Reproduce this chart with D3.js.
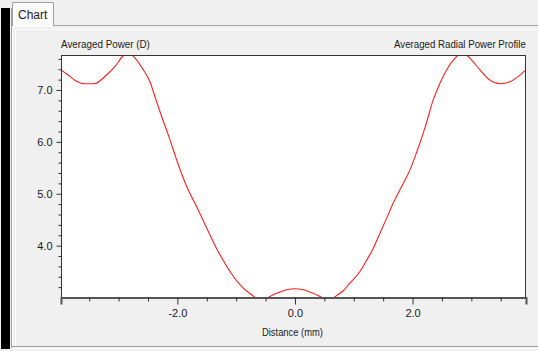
<!DOCTYPE html>
<html>
<head>
<meta charset="utf-8">
<script src="https://cdn.jsdelivr.net/npm/d3@7/dist/d3.min.js"></script>
<style>
  html, body { margin: 0; padding: 0; background: #f0f0f0; }
  svg { display: block; }
  text { font-family: "Liberation Sans", Arial, sans-serif; fill: #1a1a1a; }
</style>
</head>
<body>
<svg id="chart" width="538" height="351"></svg>
<script>
// ---- Data ----
const distanceMm = [
  -3.98, -3.86, -3.745, -3.574, -3.416, -3.234, -3.064, -2.922, -2.85, -2.78,
  -2.58, -2.467, -2.382, -2.268, -2.126, -2.012, -1.842, -1.672, -1.502, -1.332,
  -1.191, -1.106, -0.88, -0.709, -0.65, -0.57, -0.49, -0.425, -0.311, -0.141,
  0, 0.141, 0.311, 0.425, 0.50, 0.57, 0.65, 0.70, 0.822, 0.936,
  1.106, 1.22, 1.332, 1.446, 1.56, 1.672, 1.815, 1.956, 2.07, 2.211,
  2.352, 2.466, 2.58, 2.71, 2.778, 2.85, 2.92, 3.147, 3.317, 3.487,
  3.657, 3.93
];
const averagedPower = [
  7.39, 7.29, 7.19, 7.12, 7.12, 7.26, 7.45, 7.66, 7.71, 7.68,
  7.39, 7.16, 6.87, 6.49, 6.04, 5.65, 5.14, 4.75, 4.34, 3.94,
  3.66, 3.50, 3.18, 3.03, 2.98, 2.96, 2.98, 3.02, 3.08, 3.15,
  3.17, 3.15, 3.08, 3.02, 2.98, 2.96, 2.98, 3.03, 3.13, 3.28,
  3.50, 3.72, 3.95, 4.24, 4.53, 4.82, 5.14, 5.46, 5.80, 6.27,
  6.81, 7.13, 7.39, 7.60, 7.67, 7.71, 7.67, 7.39, 7.19, 7.12,
  7.16, 7.39
];
const xMajorTicks = [-2.0, 0.0, 2.0];
const xMinorTicks = [-3.5, -3.0, -2.5, -1.5, -1.0, -0.5, 0.5, 1.0, 1.5, 2.5, 3.0, 3.5];
const yMajorTicks = [4.0, 5.0, 6.0, 7.0];
const yMinorTicks = [3.2, 3.4, 3.6, 3.8, 4.2, 4.4, 4.6, 4.8, 5.2, 5.4, 5.6, 5.8, 6.2, 6.4, 6.6, 6.8, 7.2, 7.4, 7.6];
const xDomain = [-3.98, 3.93];
const yDomain = [3.0, 7.675];
const tabLabel = "Chart";
const yTitle = "Averaged Power (D)";
const chartTitle = "Averaged Radial Power Profile";
const xTitle = "Distance (mm)";

// ---- Layout ----
const svg = d3.select("#chart");
const plot = { left: 61, top: 55, right: 526, bottom: 297.5 };

// window chrome
svg.append("rect").attr("x", 0).attr("y", 0).attr("width", 538).attr("height", 351).attr("fill", "#f0f0f0");
svg.append("rect").attr("x", 1).attr("y", 8).attr("width", 9).attr("height", 341).attr("fill", "#000");
// panel
svg.append("line").attr("x1", 11.5).attr("x2", 11.5).attr("y1", 8).attr("y2", 348).attr("stroke", "#a0a0a0");
svg.append("line").attr("x1", 12.5).attr("x2", 538).attr("y1", 25.5).attr("y2", 25.5).attr("stroke", "#a0a0a0");
svg.append("line").attr("x1", 12.5).attr("x2", 12.5).attr("y1", 25).attr("y2", 347).attr("stroke", "#ffffff");
svg.append("line").attr("x1", 15.5).attr("x2", 538).attr("y1", 29.5).attr("y2", 29.5).attr("stroke", "#ffffff");
svg.append("line").attr("x1", 15.5).attr("x2", 15.5).attr("y1", 29.5).attr("y2", 345).attr("stroke", "#ffffff");
svg.append("line").attr("x1", 11).attr("x2", 538).attr("y1", 346.5).attr("y2", 346.5).attr("stroke", "#a0a0a0");
svg.append("line").attr("x1", 11).attr("x2", 538).attr("y1", 348.5).attr("y2", 348.5).attr("stroke", "#ffffff");
// tab
svg.append("path")
  .attr("d", "M12.5,26 L12.5,2.5 L53.5,2.5 L53.5,26")
  .attr("fill", "#fbfbfb").attr("stroke", "#a0a0a0");
svg.append("rect").attr("x", 13).attr("y", 24).attr("width", 40).attr("height", 3).attr("fill", "#fbfbfb");
svg.append("text").attr("x", 18).attr("y", 19).attr("font-size", 12).text(tabLabel);

// ---- Scales ----
const x = d3.scaleLinear().domain(xDomain).range([plot.left, plot.right]);
const y = d3.scaleLinear().domain(yDomain).range([plot.bottom, plot.top]);

// plot background
svg.append("rect")
  .attr("x", plot.left).attr("y", plot.top)
  .attr("width", plot.right - plot.left).attr("height", plot.bottom - plot.top)
  .attr("fill", "#ffffff");

// clip
svg.append("clipPath").attr("id", "clip").append("rect")
  .attr("x", plot.left).attr("y", plot.top)
  .attr("width", plot.right - plot.left).attr("height", plot.bottom - plot.top);

// line
const pts = distanceMm.map((d, i) => [d, averagedPower[i]]);
const line = d3.line().x(d => x(d[0])).y(d => y(d[1])).curve(d3.curveMonotoneX);
svg.append("path")
  .datum(pts)
  .attr("clip-path", "url(#clip)")
  .attr("fill", "none")
  .attr("stroke", "#ff2020")
  .attr("stroke-width", 1.1)
  .attr("d", line);

// frame
svg.append("rect")
  .attr("x", plot.left + 0.5).attr("y", plot.top + 0.5)
  .attr("width", plot.right - plot.left - 1).attr("height", plot.bottom - plot.top)
  .attr("fill", "none").attr("stroke", "#333");

// ---- Axes ----
const tickFmt = d => d.toFixed(1);
// x axis
const xAxisMajor = d3.axisBottom(x).tickValues(xMajorTicks).tickSize(7).tickPadding(5).tickFormat(tickFmt);
const gx = svg.append("g").attr("transform", `translate(0,${plot.bottom})`).call(xAxisMajor);
gx.select(".domain").attr("stroke", "#555").attr("stroke-width", 2);
gx.selectAll(".tick line").attr("stroke", "#333");
gx.selectAll(".tick text").attr("font-size", 11).attr("font-family", "Liberation Sans, Arial, sans-serif").attr("fill", "#1a1a1a");
const xAxisMinor = d3.axisBottom(x).tickValues(xMinorTicks).tickSize(4).tickFormat("");
const gxm = svg.append("g").attr("transform", `translate(0,${plot.bottom})`).call(xAxisMinor);
gxm.select(".domain").remove();
gxm.selectAll(".tick line").attr("stroke", "#333");

// y axis
const yAxisMajor = d3.axisLeft(y).tickValues(yMajorTicks).tickSize(5).tickPadding(4).tickFormat(tickFmt);
const gy = svg.append("g").attr("transform", `translate(${plot.left + 0.5},0)`).call(yAxisMajor);
gy.select(".domain").remove();
gy.selectAll(".tick line").attr("stroke", "#333");
gy.selectAll(".tick text").attr("font-size", 11).attr("font-family", "Liberation Sans, Arial, sans-serif").attr("fill", "#1a1a1a");
const yAxisMinor = d3.axisLeft(y).tickValues(yMinorTicks).tickSize(3).tickFormat("");
const gym = svg.append("g").attr("transform", `translate(${plot.left + 0.5},0)`).call(yAxisMinor);
gym.select(".domain").remove();
gym.selectAll(".tick line").attr("stroke", "#333");

// ---- Titles (condensed horizontally to match the narrow UI font) ----
function condensedText(txt, left, baseline, width) {
  const g = svg.append("g");
  const t = g.append("text").attr("x", 0).attr("y", 0).attr("font-size", 11).text(txt);
  const natural = t.node().getComputedTextLength();
  const s = width / natural;
  g.attr("transform", `translate(${left},${baseline}) scale(${s},1)`);
}
condensedText(yTitle, plot.left, 48, 89);
condensedText(chartTitle, plot.right - 132, 48, 132);
condensedText(xTitle, 292.5 - 30.5, 336, 61);
</script>
</body>
</html>
